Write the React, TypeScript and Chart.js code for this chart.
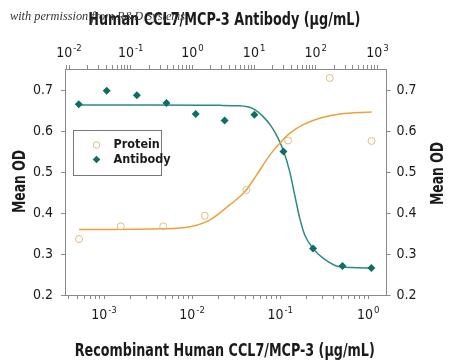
import React, { useEffect, useRef } from 'react';
import { Chart, registerables } from 'chart.js';

Chart.register(...registerables);

// ---- Data ----
// Recombinant Human CCL7/MCP-3 (bottom axis, µg/mL)
const proteinConc = [0.00052, 0.00155, 0.0047, 0.0139, 0.0413, 0.123, 0.366, 1.09];
const proteinOD = [0.337, 0.368, 0.368, 0.394, 0.457, 0.578, 0.731, 0.577];

// Human CCL7/MCP-3 Antibody (top axis, µg/mL)
const antibodyConc = [0.0144, 0.0408, 0.126, 0.379, 1.13, 3.33, 10.1, 29.9, 90.2, 270, 796];
const antibodyOD = [0.667, 0.7, 0.689, 0.67, 0.643, 0.627, 0.641, 0.551, 0.314, 0.271, 0.266];

// Fitted curves
const proteinFitConc = [0.00052, 0.00432, 0.00946, 0.016, 0.0269, 0.0398, 0.0541, 0.0766, 0.0995, 0.129, 0.183, 0.308, 0.477, 1.09];
const proteinFitOD = [0.36, 0.362, 0.367, 0.384, 0.421, 0.453, 0.494, 0.543, 0.572, 0.596, 0.617, 0.635, 0.643, 0.648];

const antibodyFitConc = [0.0144, 0.203, 2.77, 5.84, 9.6, 13.9, 19.1, 24.4, 30.2, 37.8, 45.5, 54.9, 66.2, 90.1, 131, 244, 796];
const antibodyFitOD = [0.665, 0.665, 0.664, 0.663, 0.656, 0.637, 0.612, 0.584, 0.551, 0.502, 0.445, 0.388, 0.347, 0.314, 0.29, 0.269, 0.266];

const yTicks = [0.2, 0.3, 0.4, 0.5, 0.6, 0.7];
const legendLabels = ['Protein', 'Antibody'];

const titleTop = 'Human CCL7/MCP-3 Antibody (\u00b5g/mL)';
const titleBottom = 'Recombinant Human CCL7/MCP-3 (\u00b5g/mL)';
const titleY = 'Mean OD';
const watermark = 'with permission from R&D Systems';

// ---- Styles ----
const FONT = "'Liberation Sans Narrow', 'DejaVu Sans Condensed', 'Liberation Sans', sans-serif";
const TEAL = '#0f6e63';
const TEAL_LINE = '#2b8a86';
const ORANGE_LINE = '#e8a43a';
const ORANGE_PT = '#e2bb80';
const AXIS = '#8a8a8a';
const TEXT = '#1a1a1a';

const xMin = Math.pow(10, -3.443);
const xMax = Math.pow(10, 0.207);
const x2Min = Math.pow(10, -2.065);
const x2Max = Math.pow(10, 3.146);
const yMin = 0.2;
const yMax = 0.753;

function logTicks(min: number, max: number) {
  const out: any[] = [];
  for (let e = Math.floor(Math.log10(min)); e <= Math.ceil(Math.log10(max)); e++) {
    for (let m = 1; m <= 9; m++) {
      const v = m * Math.pow(10, e);
      if (v >= min * 0.9999 && v <= max * 1.0001) out.push({ value: v, major: m === 1 });
    }
  }
  return out;
}

function fitText(ctx: CanvasRenderingContext2D, text: string, x: number, y: number, width: number, font: string, rot = 0) {
  ctx.save();
  ctx.font = font;
  const w = ctx.measureText(text).width;
  ctx.translate(x, y);
  if (rot) ctx.rotate(rot);
  ctx.scale(width / w, 1);
  ctx.textAlign = 'center';
  ctx.textBaseline = 'alphabetic';
  ctx.fillText(text, 0, 0);
  ctx.restore();
}

function drawPow(ctx: CanvasRenderingContext2D, x: number, baseline: number, exp: number) {
  const base = '10';
  const sup = String(exp);
  ctx.font = `14px ${FONT}`;
  const w1 = ctx.measureText(base).width;
  ctx.font = `9.5px ${FONT}`;
  const w2 = ctx.measureText(sup).width;
  const start = x - (w1 + w2 + 1) / 2;
  ctx.textAlign = 'left';
  ctx.textBaseline = 'alphabetic';
  ctx.font = `14px ${FONT}`;
  ctx.fillText(base, start, baseline);
  ctx.font = `9.5px ${FONT}`;
  ctx.fillText(sup, start + w1 + 1, baseline - 5.5);
}

const decorPlugin = {
  id: 'decor',
  afterDraw(chart: any) {
    const ctx: CanvasRenderingContext2D = chart.ctx;
    const area = chart.chartArea;
    ctx.save();
    ctx.fillStyle = TEXT;

    // log-axis labels with superscripts
    const xs = chart.scales.x;
    const xt = chart.scales.x2;
    for (let e = -3; e <= 0; e++) drawPow(ctx, xs.getPixelForValue(Math.pow(10, e)), area.bottom + 23.5, e);
    for (let e = -2; e <= 3; e++) drawPow(ctx, xt.getPixelForValue(Math.pow(10, e)), area.top - 12.5, e);

    // axis titles
    const cx = (area.left + area.right) / 2;
    fitText(ctx, titleTop, cx - 1.5, 25, 272, `bold 17px ${FONT}`);
    fitText(ctx, titleBottom, cx - 1, 356, 300, `bold 18px ${FONT}`);
    fitText(ctx, titleY, 25, 181.5, 63, `bold 18px ${FONT}`, -Math.PI / 2);
    fitText(ctx, titleY, 443, 173.5, 63, `bold 18px ${FONT}`, -Math.PI / 2);

    // watermark
    ctx.fillStyle = '#333';
    ctx.save();
    ctx.font = "italic 12px 'Liberation Serif', 'DejaVu Serif', serif";
    const ww = ctx.measureText(watermark).width;
    ctx.translate(10, 19.5);
    ctx.scale(175 / ww, 1);
    ctx.textAlign = 'left';
    ctx.fillText(watermark, 0, 0);
    ctx.restore();

    // legend box
    const lx = Math.round(area.left + 8) + 0.5;
    const ly = Math.round(area.top + 61) + 0.5;
    const lw = 88;
    const lh = 45;
    ctx.fillStyle = '#fff';
    ctx.fillRect(lx, ly, lw, lh);
    ctx.strokeStyle = '#777';
    ctx.lineWidth = 1;
    ctx.strokeRect(lx, ly, lw, lh);

    const mx = lx + 23;
    const r1y = ly + 14.5;
    const r2y = ly + 29;
    // protein marker
    ctx.beginPath();
    ctx.arc(mx, r1y, 3.3, 0, Math.PI * 2);
    ctx.strokeStyle = ORANGE_PT;
    ctx.lineWidth = 1;
    ctx.stroke();
    // antibody marker
    ctx.beginPath();
    const d = 3.8;
    ctx.moveTo(mx, r2y - d);
    ctx.lineTo(mx + d, r2y);
    ctx.lineTo(mx, r2y + d);
    ctx.lineTo(mx - d, r2y);
    ctx.closePath();
    ctx.fillStyle = TEAL;
    ctx.fill();

    ctx.fillStyle = TEXT;
    ctx.font = `bold 12.5px ${FONT}`;
    ctx.textAlign = 'left';
    ctx.textBaseline = 'middle';
    ctx.fillText(legendLabels[0], lx + 40, r1y);
    ctx.fillText(legendLabels[1], lx + 40, r2y);
    ctx.restore();
  },
};

export default function App() {
  const ref = useRef<HTMLCanvasElement | null>(null);

  useEffect(() => {
    if (!ref.current) return;
    const toXY = (xs: number[], ys: number[]) => xs.map((x, i) => ({ x, y: ys[i] }));

    const logAxis = (position: string, min: number, max: number, h: number) => ({
      type: 'logarithmic',
      position,
      min,
      max,
      afterBuildTicks: (s: any) => {
        s.ticks = logTicks(min, max);
      },
      afterFit: (s: any) => {
        s.height = h;
      },
      ticks: { callback: () => '', autoSkip: false, maxRotation: 0, padding: 0 },
      grid: { drawOnChartArea: false, drawTicks: true, tickLength: 4, tickColor: AXIS, lineWidth: 1 },
      border: { display: true, color: AXIS, width: 1 },
    });

    const linAxis = (position: string, w: number, padding: number) => ({
      type: 'linear',
      position,
      min: yMin,
      max: yMax,
      afterBuildTicks: (s: any) => {
        s.ticks = yTicks.map((v) => ({ value: v }));
      },
      afterFit: (s: any) => {
        s.width = w;
      },
      ticks: {
        callback: (v: any) => Number(v).toFixed(1),
        font: { family: FONT, size: 14 },
        color: TEXT,
        padding,
      },
      grid: { drawOnChartArea: false, drawTicks: true, tickLength: 4, tickColor: AXIS, lineWidth: 1 },
      border: { display: true, color: AXIS, width: 1 },
    });

    const chart = new Chart(ref.current, {
      type: 'scatter',
      data: {
        datasets: [
          {
            label: 'Protein fit',
            data: toXY(proteinFitConc, proteinFitOD),
            xAxisID: 'x',
            yAxisID: 'y',
            showLine: true,
            borderColor: ORANGE_LINE,
            borderWidth: 1.5,
            pointRadius: 0,
            cubicInterpolationMode: 'monotone',
            order: 3,
          },
          {
            label: 'Antibody fit',
            data: toXY(antibodyFitConc, antibodyFitOD),
            xAxisID: 'x2',
            yAxisID: 'y',
            showLine: true,
            borderColor: TEAL_LINE,
            borderWidth: 1.5,
            pointRadius: 0,
            cubicInterpolationMode: 'monotone',
            order: 3,
          },
          {
            label: legendLabels[0],
            data: toXY(proteinConc, proteinOD),
            xAxisID: 'x',
            yAxisID: 'y',
            pointStyle: 'circle',
            pointRadius: 3.5,
            pointBorderWidth: 1,
            borderColor: ORANGE_PT,
            backgroundColor: 'rgba(255,255,255,0)',
            order: 1,
          },
          {
            label: legendLabels[1],
            data: toXY(antibodyConc, antibodyOD),
            xAxisID: 'x2',
            yAxisID: 'y',
            pointStyle: 'rectRot',
            pointRadius: 4,
            pointBorderWidth: 0,
            borderColor: TEAL,
            backgroundColor: TEAL,
            order: 1,
          },
        ],
      } as any,
      options: {
        responsive: false,
        animation: false,
        layout: { padding: 0 },
        plugins: { legend: { display: false }, tooltip: { enabled: false } },
        scales: {
          x: logAxis('bottom', xMin, xMax, 68),
          x2: logAxis('top', x2Min, x2Max, 69),
          y: linAxis('left', 65, 8),
          y2: linAxis('right', 63.5, 6),
        } as any,
      },
      plugins: [decorPlugin],
    });
    return () => chart.destroy();
  }, []);

  return (
    <div style={{ position: 'fixed', left: 0, top: 0, width: 450, height: 363, background: '#fff' }}>
      <canvas ref={ref} width={450} height={363} style={{ width: 450, height: 363, display: 'block' }} />
    </div>
  );
}
